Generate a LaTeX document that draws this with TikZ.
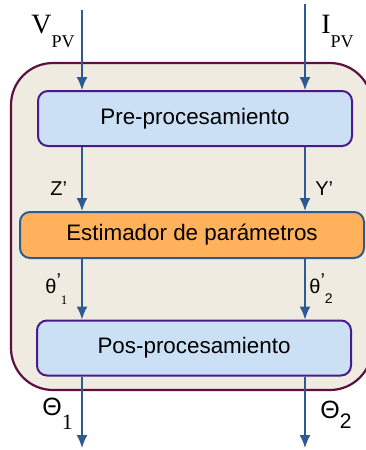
\documentclass[tikz,border=0pt]{standalone}
\usepackage{fontspec}
\setmainfont{Liberation Serif}
\setsansfont{Liberation Sans}
\usetikzlibrary{arrows.meta, positioning}
\definecolor{my_beige}{RGB}{239, 235, 224}
\definecolor{my_maroon}{RGB}{92, 16, 64}
\definecolor{my_lightblue}{RGB}{204, 224, 245}
\definecolor{my_purple}{RGB}{75, 26, 138}
\definecolor{my_orange}{RGB}{255, 178, 91}
\definecolor{my_blue}{RGB}{46, 90, 148}
\tikzset {
  bigbox/.style = {draw=my_maroon, line width=1.1pt, fill=my_beige, rounded corners=21pt},
  procbox/.style = {draw=my_purple, line width=1pt, fill=my_lightblue, rounded corners=5pt, rectangle, minimum width=157pt, minimum height=27.5pt, font=\sffamily\fontsize{11.2}{13}\selectfont},
  estbox/.style = {draw=my_blue, line width=1pt, fill=my_orange, rounded corners=5pt, rectangle, minimum width=172pt, minimum height=23pt, font=\sffamily\fontsize{11.2}{13}\selectfont},
  line/.style = {-{Latex[length=6.5pt,width=5.5pt]}, line width=0.8pt, color=my_blue},
  lbl/.style = {anchor=base west, inner sep=0pt},
}

\begin{document}
\begin{tikzpicture}[x=0.5pt, y=-0.5pt]

    \useasboundingbox (0,0) rectangle (365,450);
    \draw[bigbox] (11,63) rectangle (372,390);

    \node[procbox] (pre) at (195,118.5) {Pre-procesamiento};
    \node[estbox] (est) at (192,235) {Estimador de parámetros};
    \node[procbox] (post) at (194,348) {Pos-procesamiento};

    % free ends
    \coordinate (vin) at (82,10);
    \coordinate (iin) at (305,4);
    \coordinate (out1) at (82,448);
    \coordinate (out2) at (305,448);

    \draw[line] (vin) -- (vin |- pre.north);
    \draw[line] (iin) -- (iin |- pre.north);
    \draw[line] (vin |- pre.south) -- (vin |- est.north);
    \draw[line] (iin |- pre.south) -- (iin |- est.north);
    \draw[line] (vin |- est.south) -- (vin |- post.north);
    \draw[line] (iin |- est.south) -- (iin |- post.north);
    \draw[line] (vin |- post.south) -- (out1);
    \draw[line] (iin |- post.south) -- (out2);

    % labels
    \node[lbl] (vpv) at (31,33) {\fontsize{14}{15}\selectfont V\raisebox{-7pt}{\fontsize{9}{10}\selectfont PV}};
    \node[lbl] (ipv) at (321,33) {\fontsize{14}{15}\selectfont I\raisebox{-7pt}{\fontsize{9}{10}\selectfont PV}};
    \node[lbl, font=\sffamily\fontsize{10}{11}\selectfont] (zp) at (50,195) {Z’};
    \node[lbl, font=\sffamily\fontsize{10}{11}\selectfont] (yp) at (315,195) {Y’};
    \node[lbl] (th1p) at (45,293) {\sffamily\fontsize{10}{11}\selectfont θ\raisebox{3pt}{’}\raisebox{-5.5pt}{\rmfamily\fontsize{6.5}{7}\selectfont 1}};
    \node[lbl] (th2p) at (309,293) {\sffamily\fontsize{10}{11}\selectfont θ\raisebox{3pt}{’}\raisebox{-5pt}{\fontsize{7}{7}\selectfont 2}};
    \node[lbl] (th1) at (42,415) {\sffamily\fontsize{12.5}{13}\selectfont Θ\raisebox{-7pt}{\rmfamily\fontsize{11}{11}\selectfont 1}};
    \node[lbl] (th2) at (320,418) {\sffamily\fontsize{12.5}{13}\selectfont Θ\raisebox{-5pt}{\fontsize{10.5}{11}\selectfont 2}};

\end{tikzpicture}
\end{document}
